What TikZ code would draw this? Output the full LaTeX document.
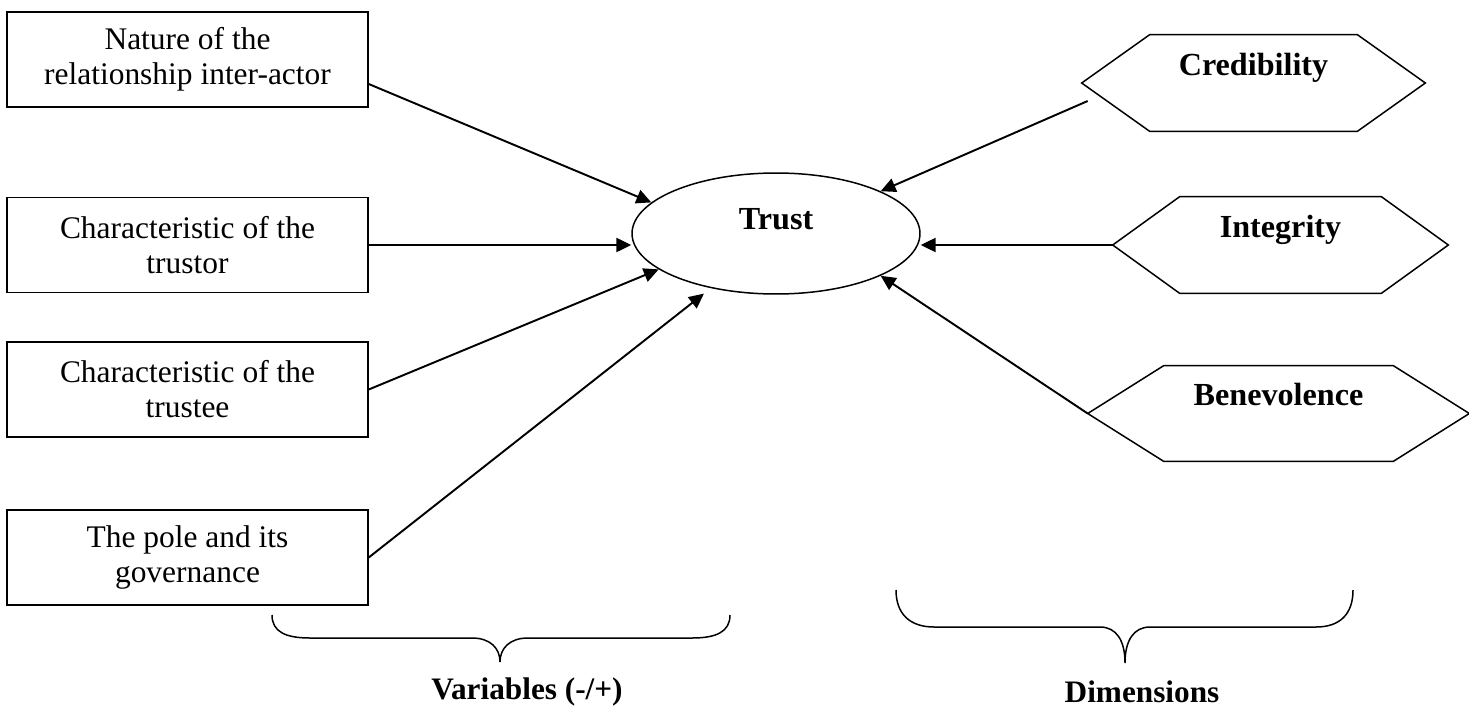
\documentclass[tikz,border=0pt]{standalone}
\usepackage{fontspec}
\setmainfont{Liberation Serif}
\usetikzlibrary{shapes.geometric, arrows.meta, positioning, calc}

\tikzset{
  varbox/.style={draw, line width=0.85pt, minimum width=7.22cm, minimum height=1.9cm, inner sep=0pt, align=center, font=\fontsize{17.9pt}{20pt}\selectfont},
  dimhex/.style={minimum height=1.92cm, inner sep=0pt, font=\bfseries\fontsize{18.3pt}{21pt}\selectfont, text height=12pt, text depth=21pt},
  link/.style={-{Triangle[length=8.5pt,width=8pt]}, line width=1.1pt},
  tag/.style={font=\bfseries\fontsize{17.8pt}{20pt}\selectfont}
}
\newcommand{\hexline}[2]{%
  \draw[line width=0.85pt] ([xshift=#2]#1.north west) -- ([xshift=-#2]#1.north east) -- (#1.east)
    -- ([xshift=-#2]#1.south east) -- ([xshift=#2]#1.south west) -- (#1.west) -- cycle;}

\begin{document}
\begin{tikzpicture}[x=0.02cm,y=-0.02cm]
\useasboundingbox (0,0) rectangle (1469,710);

% Variables
\node[varbox] (box1) at (187.5,59.5) {Nature of the\\relationship inter-actor};
\node[varbox] (box2) at (187.5,245) {Characteristic of the\\trustor};
\node[varbox] (box3) at (187.5,389.5) {Characteristic of the\\trustee};
\node[varbox] (box4) at (187.5,557.5) {The pole and its\\governance};

% Trust
\node[ellipse, draw, line width=0.85pt, minimum width=5.76cm, minimum height=2.42cm, inner sep=0pt,
  font=\bfseries\fontsize{18.3pt}{21pt}\selectfont, text height=12pt, text depth=17pt] (trust) at (776,233.5) {Trust};

% Dimensions
\node[dimhex, minimum width=6.86cm] (cred) at (1253.5,83) {Credibility};
\node[dimhex, minimum width=6.7cm] (integ) at (1280.5,245) {Integrity};
\node[dimhex, minimum width=7.62cm, minimum height=1.9cm] (bene) at (1278.5,413.5) {Benevolence};
\hexline{cred}{1.36cm}
\hexline{integ}{1.34cm}
\hexline{bene}{1.52cm}

% Arrows
\draw[link] ($(box1.east)+(0,24.5)$) -- (trust.166);
\draw[link] (box2.east) -- (box2.east -| trust.west);
\draw[link] (box3.east) -- (trust.197);
\draw[link, shorten >=5pt] (box4.east) -- (trust.220);
\draw[link] ($(cred.west)+(6,18)$) -- (trust.22);
\draw[link] (integ.west) -- (integ.west -| trust.east);
\draw[link] (bene.west) -- (trust.338);

% Braces
\draw[line width=0.85pt] (272,615) .. controls (272,632) and (286,638) .. (310,638) -- (472,638)
  .. controls (490,638) and (500,648) .. (500,662) .. controls (500,648) and (510,638) .. (528,638)
  -- (692,638) .. controls (716,638) and (730,632) .. (730,615);
\draw[line width=0.85pt] (896,590) .. controls (896,614) and (910,627) .. (934,627) -- (1100,627)
  .. controls (1116,627) and (1125,640) .. (1125,663) .. controls (1125,640) and (1134,627) .. (1150,627)
  -- (1316,627) .. controls (1340,627) and (1353,614) .. (1353,590);

\node[tag] (varlab) at (527,692) {Variables (-/+)};
\node[tag] (dimlab) at (1142,692) {Dimensions};
\end{tikzpicture}
\end{document}
